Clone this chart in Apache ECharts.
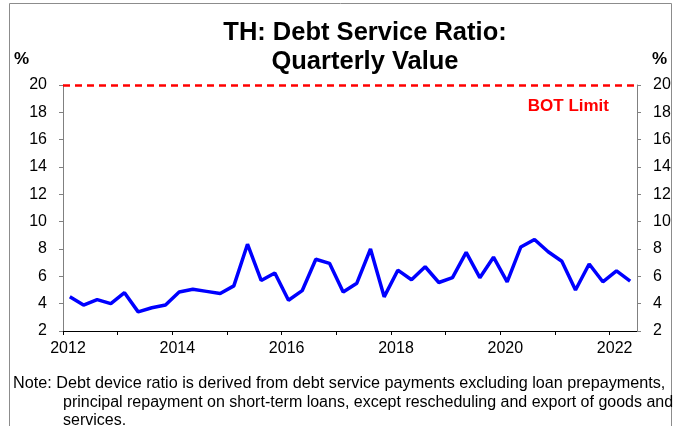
<!DOCTYPE html>
<html><head><meta charset="utf-8">
<script src="https://cdn.jsdelivr.net/npm/echarts@6/dist/echarts.min.js"></script>
<style>html,body{margin:0;padding:0;background:#fff}#c{width:676px;height:426px}</style>
</head><body><div id="c"></div>
<script>
const quarters = [];
for (let y = 2012; y <= 2022; y++) for (let q = 1; q <= 4; q++) if (!(y === 2022 && q > 2)) quarters.push(y + 'Q' + q);
const dsr = [4.5,3.9,4.3,4.0, 4.8,3.4,3.7,3.9, 4.85,5.05,4.9,4.75, 5.3,8.35,5.7,6.25,
             4.25,4.95,7.25,6.95, 4.85,5.5,8.0,4.5, 6.45,5.75,6.7,5.55, 5.9,7.75,5.9,7.4,
             5.6,8.15,8.7,7.8, 7.1,5.0,6.9,5.6, 6.4,5.65];
const botLimit = 20;
const yTicks = [2,4,6,8,10,12,14,16,18,20];
const xLabelYears = [2012,2014,2016,2018,2020,2022];

const pts = quarters.map((q, i) => {
  const yr = +q.slice(0,4), qq = +q.slice(5);
  return [yr + (qq - 0.5) / 4, dsr[i]];
});
const font = 'Arial, "Liberation Sans", sans-serif';
const chart = echarts.init(document.getElementById('c'));
const yAxisBase = {
  type: 'value', min: yTicks[0], max: yTicks[yTicks.length-1], interval: 2,
  axisLine: {show: true, lineStyle: {color: '#808080', width: 1}},
  axisTick: {show: true, inside: false, length: 4, lineStyle: {color: '#808080'}},
  splitLine: {show: false},
  axisLabel: {color: '#000', fontSize: 16, fontFamily: font, margin: 16}
};
chart.setOption({
  animation: false,
  backgroundColor: '#fff',
  title: {
    text: 'TH: Debt Service Ratio:\nQuarterly Value',
    left: 360, top: 13, textAlign: 'center',
    textStyle: {fontSize: 25.5, fontWeight: 'bold', color: '#000', lineHeight: 29, fontFamily: font}
  },
  grid: {left: 63, right: 39, top: 85, bottom: 95},
  xAxis: {
    type: 'value', min: 2012, max: 2022.5, interval: 1,
    axisLine: {show: true, onZero: false, lineStyle: {color: '#000', width: 1}},
    axisTick: {show: true, length: 4, lineStyle: {color: '#000'}},
    splitLine: {show: false},
    axisLabel: {color: '#000', fontSize: 16, fontFamily: font, margin: 10, showMaxLabel: false,
      padding: [0, 0, 0, 10],
      formatter: v => xLabelYears.includes(Math.round(v)) && Math.abs(v - Math.round(v)) < 1e-6 ? String(Math.round(v)) : ''}
  },
  yAxis: [
    Object.assign({}, yAxisBase, {position: 'left'}),
    Object.assign({}, yAxisBase, {position: 'right'})
  ],
  series: [{
    type: 'line', data: pts, showSymbol: false, symbol: 'none',
    lineStyle: {color: '#0000FF', width: 3.5}, z: 3,
    markLine: {
      silent: true, symbol: 'none',
      lineStyle: {color: '#FF0000', type: [7, 5], width: 2.5},
      label: {show: true, position: 'insideEndBottom', formatter: 'BOT Limit',
        color: '#FF0000', fontWeight: 'bold', fontSize: 17, fontFamily: font, distance: [28, 13]},
      data: [{yAxis: botLimit}]
    }
  }],
  graphic: [
    {type: 'polyline', shape: {points: [[9.5, 426], [9.5, 3.5], [671.5, 3.5], [671.5, 426]]}, style: {fill: null, stroke: '#8c8c8c', lineWidth: 1}, silent: true},
    {type: 'text', left: 14, top: 51, style: {text: '%', fontSize: 17, fontWeight: 'bold', fill: '#000', fontFamily: font}},
    {type: 'text', left: 652, top: 51, style: {text: '%', fontSize: 17, fontWeight: 'bold', fill: '#000', fontFamily: font}},
    {type: 'text', left: 13, top: 376, style: {
      text: 'Note: Debt device ratio is derived from debt service payments excluding loan prepayments,',
      fontSize: 16.2, fill: '#000', fontFamily: font}},
    {type: 'text', left: 63, top: 394.5, style: {
      text: 'principal repayment on short-term loans, except rescheduling and export of goods and',
      fontSize: 16, fill: '#000', fontFamily: font}},
    {type: 'text', left: 63, top: 413, style: {
      text: 'services.', fontSize: 16, fill: '#000', fontFamily: font}}
  ]
});
</script></body></html>
